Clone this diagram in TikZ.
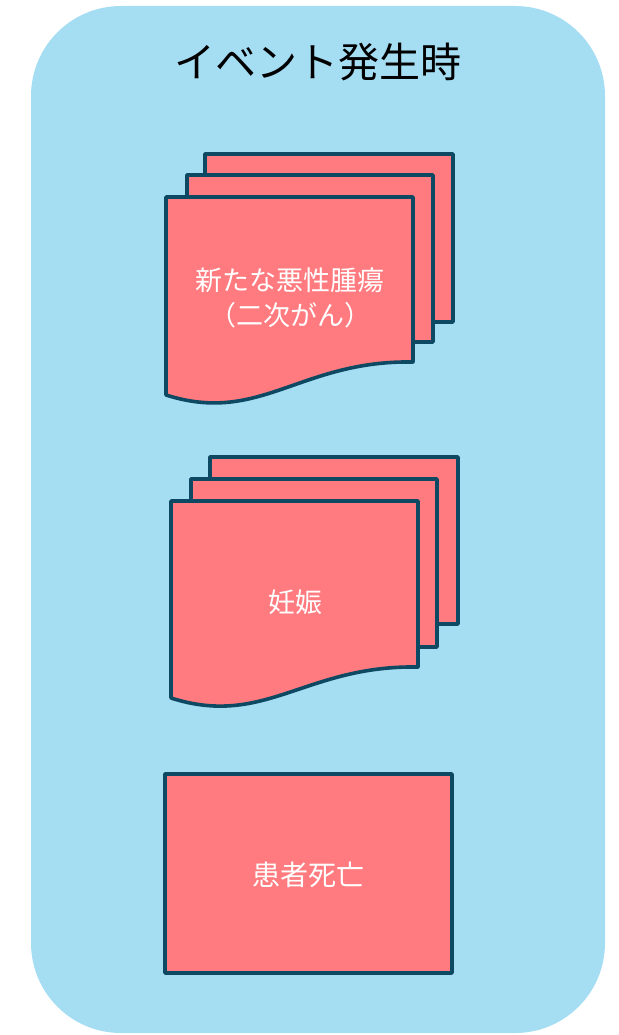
\documentclass[tikz,border=0pt]{standalone}
\usepackage{fontspec}
\newfontfamily\jp{Noto Sans CJK JP}
\definecolor{bgblue}{HTML}{A5DDF3}
\definecolor{docred}{HTML}{FF7B7F}
\definecolor{docline}{HTML}{0E4963}
\begin{document}
\begin{tikzpicture}[x=1pt,y=-1pt,
  docshape/.style={fill=docred,draw=docline,line width=3.6pt,line join=round},
  lbl/.style={text=white,font=\jp\fontsize{27}{35}\selectfont,align=center,inner sep=0pt}]
\useasboundingbox (0,0) rectangle (618,1035);
% background panel
\fill[bgblue,rounded corners=90pt] (31,6) rectangle (605,1033);
\node[font=\jp\fontsize{41}{48}\selectfont,inner sep=0pt] (title) at (318,62) {イベント発生時};
% document stack 1
\draw[docshape] (205,154) rectangle (453,322);
\draw[docshape] (187,175) rectangle (433,342);
\draw[docshape] (166,395) -- (166,197) -- (413,197) -- (413,362)
  .. controls (300,360) and (260,425) .. (166,395) -- cycle;
\node[lbl] (tumor) at (290,298) {新たな悪性腫瘍\\（二次がん）};
% document stack 2
\draw[docshape] (210,457) rectangle (458,624);
\draw[docshape] (191,479) rectangle (437,647);
\draw[docshape] (171,698) -- (171,501) -- (418,501) -- (418,667)
  .. controls (305,665) and (265,728) .. (171,698) -- cycle;
\node[lbl] (preg) at (295,602) {妊娠};
% rectangle
\draw[docshape] (165,774) rectangle (452,973);
\node[lbl,font=\jp\fontsize{28}{34}\selectfont] (death) at (308,875) {患者死亡};
\end{tikzpicture}
\end{document}
